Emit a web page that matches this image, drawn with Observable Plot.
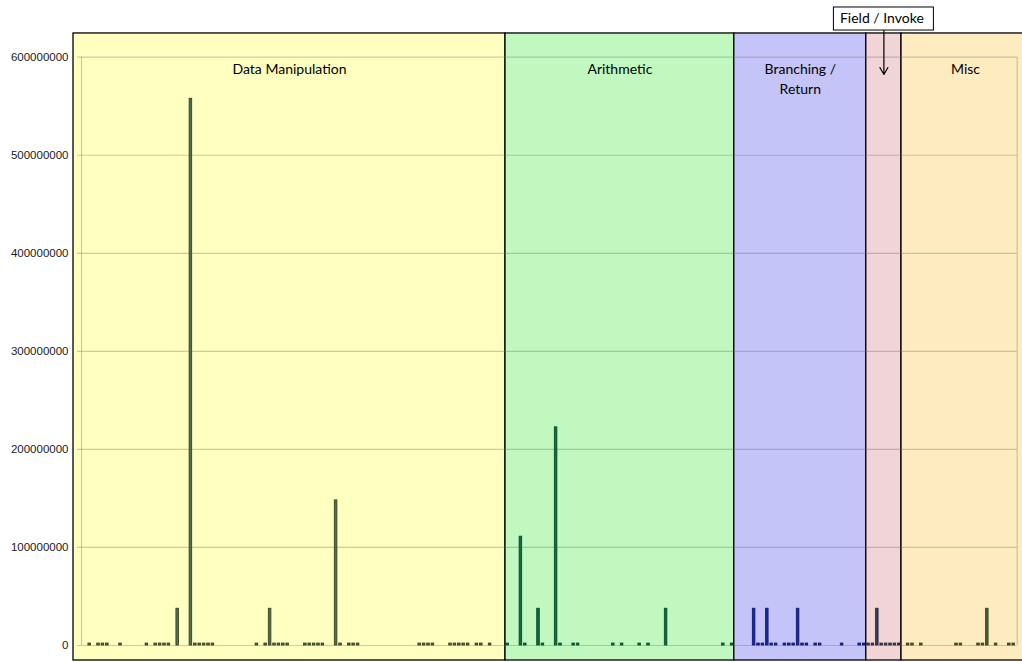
<!DOCTYPE html>
<html>
<head>
<meta charset="utf-8">
<script src="https://cdn.jsdelivr.net/npm/d3@7"></script>
<script src="https://cdn.jsdelivr.net/npm/@observablehq/plot@0.6"></script>
<style>
  html, body { margin: 0; padding: 0; background: #ffffff; }
  #chart svg { display: block; }
</style>
</head>
<body>
<div id="chart"></div>
<script>
// ---- Data ----
const bandLabels  = ["Data Manipulation", "Arithmetic", "Branching /\nReturn", "", "Misc"];
const bandStart   = [0, 96, 148, 178, 186];
const bandEnd     = [96, 148, 178, 186, 212];
const bandColors  = ["#FFFFC0", "#C0F8C0", "#C4C4F8", "#F0D4D6", "#FFEBC0"];
const barFills    = ["#4d6f5a", "#0f6a3c", "#1a2a9a", "#3c3a5c", "#4a5c34"];
const barStrokes  = ["#33381a", "#00492a", "#0a1470", "#2a2838", "#33401c"];

// opcode index (category position) and execution counts
const opcodeIndex = [
  1, 3, 4, 5, 8, 14, 16, 17, 18, 19, 21, 24, 25, 26, 27, 28, 29, 39, 41, 42,
  43, 44, 45, 46, 50, 51, 52, 53, 54, 57, 58, 60, 61, 62, 76, 77, 78, 79,
  83, 84, 85, 86, 87, 89, 90, 92,
  96, 99, 100, 103, 104, 107, 108, 111, 112, 120, 122, 126, 128, 132, 145, 147,
  152, 153, 154, 155, 156, 157, 159, 160, 161, 162, 163, 164, 166, 167, 172, 176, 177,
  178, 179, 180, 181, 182, 183, 184, 185,
  187, 188, 190, 198, 199, 203, 204, 205, 207, 210, 211
];
const execCount = [
  2e6, 2e6, 2e6, 2e6, 2e6, 2e6, 2e6, 2e6, 2e6, 2e6, 37.5e6, 557.6e6, 2e6, 2e6, 2e6, 2e6, 2e6, 2e6, 2e6, 37.5e6,
  2e6, 2e6, 2e6, 2e6, 2e6, 2e6, 2e6, 2e6, 2e6, 148e6, 2e6, 2e6, 2e6, 2e6, 2e6, 2e6, 2e6, 2e6,
  2e6, 2e6, 2e6, 2e6, 2e6, 2e6, 2e6, 2e6,
  2e6, 111e6, 2e6, 37.5e6, 2e6, 222.5e6, 2e6, 2e6, 2e6, 2e6, 2e6, 2e6, 2e6, 37.5e6, 2e6, 2e6,
  37.5e6, 2e6, 2e6, 37.5e6, 2e6, 2e6, 2e6, 2e6, 2e6, 37.5e6, 2e6, 2e6, 2e6, 2e6, 2e6, 2e6, 2e6,
  2e6, 2e6, 37.5e6, 2e6, 2e6, 2e6, 2e6, 2e6,
  2e6, 2e6, 2e6, 2e6, 2e6, 2e6, 2e6, 37.5e6, 2e6, 2e6, 2e6
];
const yTicks = [0, 100000000, 200000000, 300000000, 400000000, 500000000, 600000000];
const annotationText = "Field / Invoke";
const annotatedBand = 3;

// ---- Layout (scale-space extents of the drawing frame) ----
const categoryCount = 212;
const frameX = [-2.18, 215.1];
const frameY = [-15.3e6, 624.2e6];
const gridX = [-1.27, 212.3];
const boxY = [627.2e6, 650.7e6];
const arrowEndY = 582.4e6;

const bandOf = i => bandStart.findIndex((s, k) => i >= s && i < bandEnd[k]);
const bars = opcodeIndex.map((x, k) => ({x, v: execCount[k], band: bandOf(x)}));
const bands = bandStart.map((s, k) => ({
  k,
  x1: k === 0 ? frameX[0] : s,
  x2: k === bandStart.length - 1 ? frameX[1] : bandEnd[k],
  label: bandLabels[k],
  color: bandColors[k]
}));
const fieldMid = (bandStart[annotatedBand] + bandEnd[annotatedBand]) / 2;

const chart = Plot.plot({
  width: 1022,
  height: 662,
  marginLeft: 73,
  marginRight: 0,
  marginTop: 33,
  marginBottom: 2,
  style: {fontFamily: "Lato, 'Liberation Sans', sans-serif", background: "#ffffff"},
  x: {domain: [0, categoryCount], range: [82.6, 1015.4], axis: null},
  y: {domain: [0, 600000000], range: [645, 56.7], axis: null},
  marks: [
    // background bands
    Plot.rect(bands, {x1: "x1", x2: "x2", y1: () => frameY[0], y2: () => frameY[1],
      fill: "color", stroke: "#000000", strokeWidth: 1.3}),
    // gridlines and inner plot border
    Plot.ruleY(yTicks, {x1: gridX[0], x2: gridX[1], stroke: "#6e6e6e", strokeOpacity: 0.35, strokeWidth: 1.2}),
    Plot.ruleX([-0.36, gridX[1]], {y1: 0, y2: 600000000, stroke: "#6e6e6e", strokeOpacity: 0.35, strokeWidth: 1.2}),
    // bars
    Plot.rectY(bars, {x: "x", y: "v", interval: 1, insetLeft: 0.9, insetRight: 0.9,
      fill: d => barFills[d.band], stroke: d => barStrokes[d.band], strokeWidth: 0.8}),
    // y axis labels
    Plot.axisY(yTicks, {tickSize: 0, tickPadding: 5, tickFormat: d3.format("d"), label: null,
      fontSize: 11.5, fill: "#1a1a1a", fontFamily: "'Liberation Sans', Arial, sans-serif"}),
    // band labels
    Plot.text(bands, {x: d => (d.x1 + d.x2) / 2, y: () => frameY[1], text: "label",
      dy: 26, lineAnchor: "top", fontSize: 14, lineHeight: 1.43, fill: "#000000"}),
    // annotation box + arrow
    Plot.rect([annotationText], {x1: () => fieldMid, x2: () => fieldMid, y1: () => boxY[0], y2: () => boxY[1],
      insetLeft: -50, insetRight: -50, fill: "#ffffff", stroke: "#000000", strokeWidth: 1}),
    Plot.text([annotationText], {x: () => fieldMid, y: () => (boxY[0] + boxY[1]) / 2, text: d => d,
      fontSize: 14, fill: "#000000", dx: -2}),
    Plot.arrow([annotationText], {x1: () => fieldMid, x2: () => fieldMid, y1: () => boxY[0], y2: () => arrowEndY,
      stroke: "#000000", strokeWidth: 1.2, headLength: 10})
  ]
});
document.getElementById("chart").appendChild(chart);
</script>
</body>
</html>
